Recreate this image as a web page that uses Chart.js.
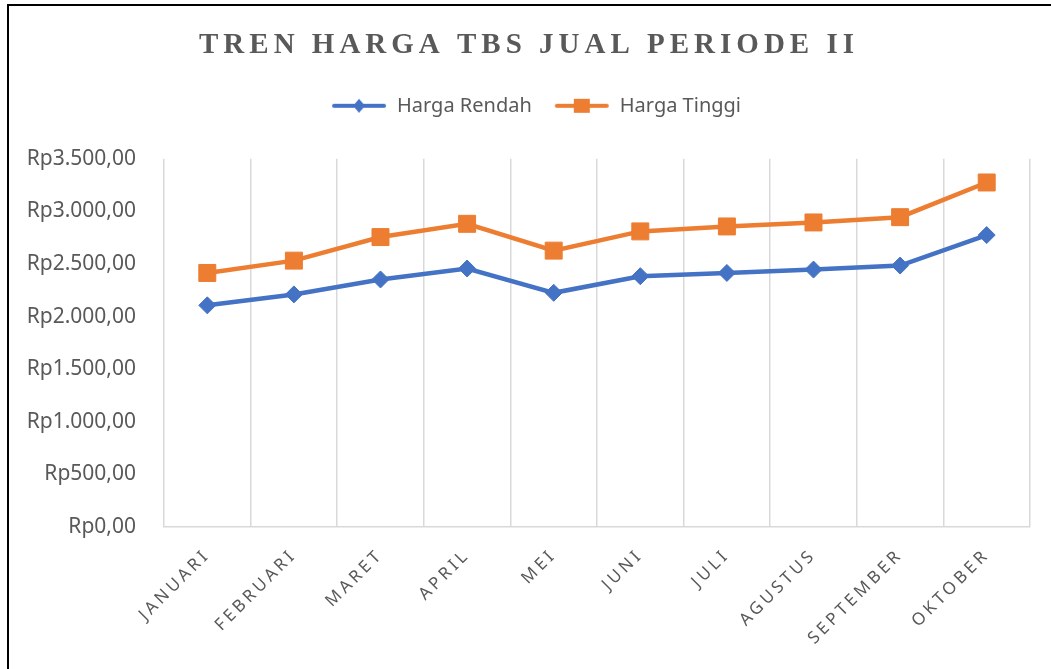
<!DOCTYPE html>
<html>
<head>
<meta charset="utf-8">
<script src="https://cdn.jsdelivr.net/npm/chart.js@4.4.0/dist/chart.umd.min.js"></script>
<style>
    html, body { margin: 0; padding: 0; background: #fff; overflow: hidden; }
    #frame { position: absolute; left: 7px; top: 4px; width: 1100px; height: 700px; border: 2px solid #000; box-sizing: border-box; }
    #wrap { position: absolute; left: 0; top: 0; width: 1051px; height: 669px; }
</style>
</head>
<body>
<div id="frame"></div>
<div id="wrap"><canvas id="myChart" width="1051" height="669"></canvas></div>
<script>
    var months = ['JANUARI', 'FEBRUARI', 'MARET', 'APRIL', 'MEI', 'JUNI', 'JULI', 'AGUSTUS', 'SEPTEMBER', 'OKTOBER'];
    var hargaRendah = [2107, 2211, 2353, 2457, 2226, 2384, 2415, 2447, 2485, 2775];
    var hargaTinggi = [2415, 2532, 2756, 2882, 2627, 2810, 2857, 2895, 2945, 3275];
    var yTicks = [0, 500, 1000, 1500, 2000, 2500, 3000, 3500];

    var blue = '#4472C4';
    var orange = '#ED7D31';
    var grey = '#595959';

    // rupiah format, e.g. Rp3.500,00
    var rupiah = function (v) {
        var parts = Number(v).toFixed(2).split('.');
        return 'Rp' + parts[0].replace(/\B(?=(\d{3})+(?!\d))/g, '.') + ',' + parts[1];
    };

    // legend sample: line with marker on it
    var legendMark = function (color, shape) {
        var c = document.createElement('canvas');
        c.width = 56; c.height = 20;
        var g = c.getContext('2d');
        g.strokeStyle = color; g.fillStyle = color;
        g.lineWidth = 4; g.lineCap = 'round';
        g.beginPath(); g.moveTo(3, 10); g.lineTo(53, 10); g.stroke();
        g.beginPath();
        if (shape === 'diamond') {
            g.moveTo(28, 3); g.lineTo(34, 10); g.lineTo(28, 17); g.lineTo(22, 10);
        } else {
            g.rect(20, 3, 16, 14);
        }
        g.closePath(); g.fill();
        return c;
    };

    // letter spacing for title and x labels, extra room under the legend
    var spacingPlugin = {
        id: 'spacing',
        beforeLayout: function (chart) {
            var lg = chart.legend;
            if (lg && !lg._padded) {
                var origFit = lg.fit;
                lg.fit = function () {
                    origFit.apply(this, arguments);
                    this.height += 33;
                };
                lg._padded = true;
            }
        },
        afterLayout: function (chart) {
            // nudge title and legend a bit to the right, like the original
            chart.legend.left += 22;
            chart.titleBlock.left += 8;
        },
        beforeDraw: function (chart) {
            var xs = chart.scales.x;
            if (xs && !xs._spaced) {
                var orig = xs.drawLabels;
                xs.drawLabels = function (area) {
                    chart.ctx.save();
                    chart.ctx.letterSpacing = '3.5px';
                    orig.call(this, area);
                    chart.ctx.restore();
                };
                xs._spaced = true;
            }
            var tb = chart.titleBlock;
            if (tb && !tb._spaced) {
                var origT = tb.draw;
                tb.draw = function () {
                    chart.ctx.save();
                    chart.ctx.letterSpacing = '5px';
                    origT.apply(this, arguments);
                    chart.ctx.restore();
                };
                tb._spaced = true;
            }
        }
    };

    Chart.defaults.font.family = "'Noto Sans', 'Open Sans', sans-serif";
    Chart.defaults.color = grey;

    const ctx = document.getElementById('myChart');
    const myChart = new Chart(ctx, {
        type: 'line',
        data: {
            labels: months,
            datasets: [{
                label: 'Harga Rendah',
                data: hargaRendah,
                borderColor: blue,
                backgroundColor: blue,
                borderWidth: 4.5,
                pointStyle: 'rectRot',
                pointRadius: 8.5,
                pointHoverRadius: 8.5,
                pointBorderWidth: 1,
                tension: 0
            }, {
                label: 'Harga Tinggi',
                data: hargaTinggi,
                borderColor: orange,
                backgroundColor: orange,
                borderWidth: 4.5,
                pointStyle: 'rect',
                pointRadius: 12,
                pointHoverRadius: 12,
                pointBorderWidth: 1,
                tension: 0
            }]
        },
        options: {
            responsive: false,
            animation: false,
            devicePixelRatio: 1,
            layout: {
                padding: { top: 0, left: 20, right: 21, bottom: 0 }
            },
            plugins: {
                title: {
                    display: true,
                    text: 'TREN HARGA TBS JUAL PERIODE II',
                    color: grey,
                    font: { family: "'Liberation Serif', 'Times New Roman', serif", size: 29, weight: 'bold' },
                    padding: { top: 28, bottom: 11 }
                },
                legend: {
                    display: true,
                    labels: {
                        usePointStyle: true,
                        pointStyleWidth: 56,
                        padding: 22,
                        color: grey,
                        font: { size: 20 },
                        generateLabels: function (chart) {
                            return [
                                { text: 'Harga Rendah', pointStyle: legendMark(blue, 'diamond'), fillStyle: blue, strokeStyle: blue, lineWidth: 0, datasetIndex: 0, fontColor: grey },
                                { text: 'Harga Tinggi', pointStyle: legendMark(orange, 'square'), fillStyle: orange, strokeStyle: orange, lineWidth: 0, datasetIndex: 1, fontColor: grey }
                            ];
                        }
                    }
                },
                tooltip: { enabled: false }
            },
            scales: {
                x: {
                    offset: true,
                    grid: { offset: true, color: '#d9d9d9', lineWidth: 1.5, drawTicks: false },
                    border: { color: '#d9d9d9', width: 1.5 },
                    ticks: {
                        minRotation: 45,
                        maxRotation: 45,
                        autoSkip: false,
                        padding: 18,
                        color: grey,
                        font: { size: 17 }
                    },
                    afterFit: function (scale) { scale.height = 669 - 527; }
                },
                y: {
                    min: 0,
                    max: 3500,
                    afterBuildTicks: function (scale) {
                        scale.ticks = yTicks.map(function (v) { return { value: v }; });
                    },
                    grid: { display: false, drawTicks: false },
                    border: { display: false },
                    ticks: {
                        padding: 28,
                        color: grey,
                        font: { size: 21 },
                        callback: function (v) { return rupiah(v); }
                    },
                    afterFit: function (scale) { scale.width = 164 - 20; }
                }
            }
        },
        plugins: [spacingPlugin]
    });
</script>
</body>
</html>
